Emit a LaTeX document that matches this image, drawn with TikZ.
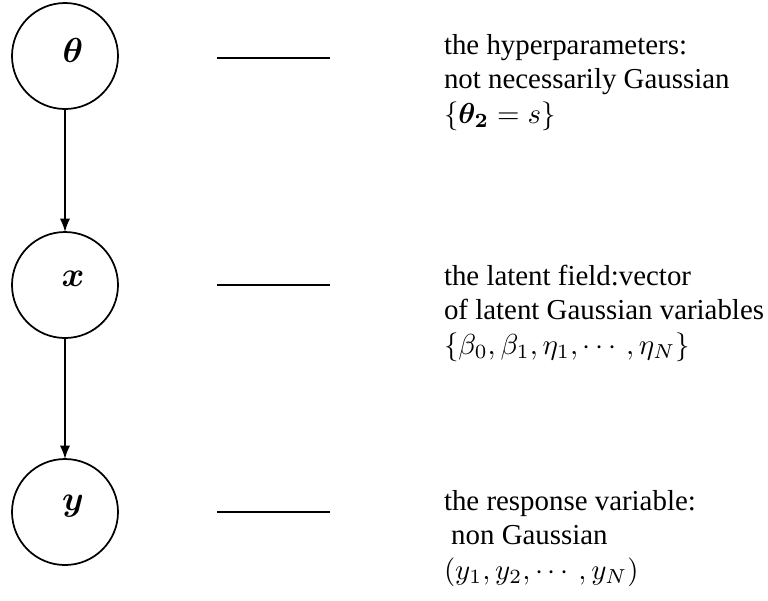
\documentclass[tikz,border=0pt]{standalone}
\usepackage{amsmath}
\usepackage[no-math]{fontspec}
\setmainfont{Liberation Serif}
\begin{document}
\begin{tikzpicture}[x={(0.3462pt,0pt)},y={(0pt,-0.3462pt)},every node/.style={outer sep=0pt},
  latent/.style={draw,semithick,circle,minimum size=36.7pt,inner sep=0pt},
  varname/.style={font=\large,inner sep=0pt},
  desc/.style={anchor=base west,inner sep=0pt}]
\useasboundingbox (0,0) rectangle (768,600);
\node[latent] (theta) at (65,56) {};
\node[latent] (x) at (65,285) {};
\node[latent] (y) at (65,512) {};
\node[varname] (thetaname) at ([shift={(8,-6)}]theta.center) {$\boldsymbol{\theta}$};
\node[varname] (xname) at ([shift={(8,-6)}]x.center) {$\boldsymbol{x}$};
\node[varname] (yname) at ([shift={(8,-6)}]y.center) {$\boldsymbol{y}$};
\draw[semithick,-latex] (theta) -- (x);
\draw[semithick,-latex] (x) -- (y);
\coordinate (thetaL) at (217,58);
\coordinate (thetaR) at (330,58);
\coordinate (xL) at (217,285);
\coordinate (xR) at (330,285);
\coordinate (yL) at (217,512);
\coordinate (yR) at (330,512);
\draw[line width=0.9pt] (thetaL) -- (thetaR);
\draw[line width=0.9pt] (xL) -- (xR);
\draw[line width=0.9pt] (yL) -- (yR);
\node[desc] (thetadesc) at (444,54) {\begin{tabular}[t]{@{}l@{}}the hyperparameters:\\ not necessarily Gaussian\\ $\{\boldsymbol{\theta_2}=s\}$\end{tabular}};
\node[desc] (xdesc) at (444,285) {\begin{tabular}[t]{@{}l@{}}the latent field:vector\\ of latent Gaussian variables\\ $\{\beta_0,\beta_1,\eta_1,\cdots,\eta_N\}$\end{tabular}};
\node[desc] (ydesc) at (444,510) {\begin{tabular}[t]{@{}l@{}}the response variable:\\ \ non Gaussian\\ $(y_1,y_2,\cdots,y_N)$\end{tabular}};
\end{tikzpicture}
\end{document}
